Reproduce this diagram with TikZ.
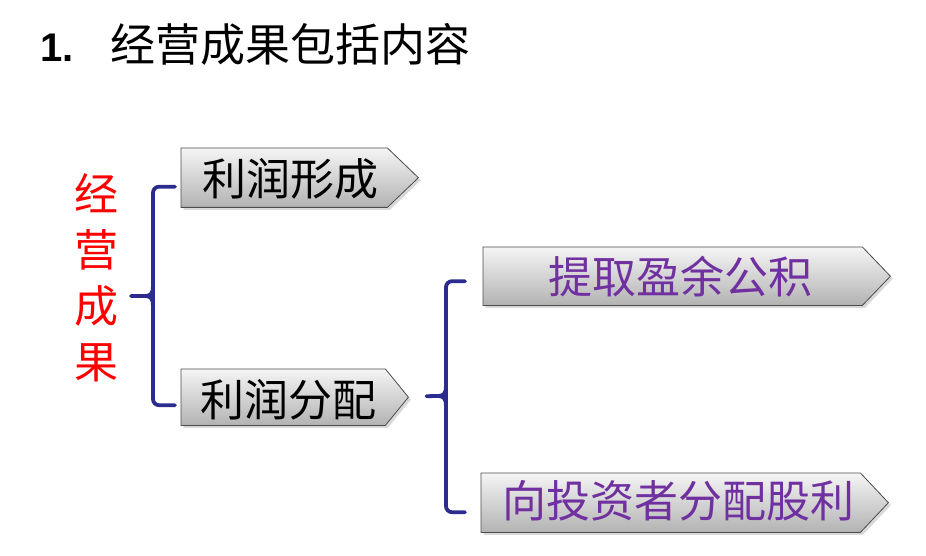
\documentclass[tikz,border=0pt]{standalone}
\usepackage{fontspec}
\setmainfont{Liberation Sans}
\newfontfamily\cjk{Noto Sans CJK SC}
\usetikzlibrary{calc,shadows}
\definecolor{bracecol}{HTML}{2B2C8E}
\definecolor{purpletxt}{HTML}{7030A0}
\tikzset{
  body/.style={draw=none, inner sep=0pt, anchor=north west},
  arrowbox/.style={draw=black!70, line width=0.8pt, line join=miter,
    top color=black!4, bottom color=black!30,
    drop shadow={opacity=0.3, shadow xshift=2.5pt, shadow yshift=-2.5pt}},
  boxtext/.style={font=\cjk\fontsize{44}{44}\selectfont, inner sep=0pt},
  brace/.style={draw=bracecol, line width=3.8pt, line cap=round, line join=round},
}
\begin{document}
\begin{tikzpicture}[x=1pt,y=-1pt]
\useasboundingbox (0,0) rectangle (926,556);

% title
\node[anchor=west, inner sep=0pt] (title) at (40,44)
  {\makebox[70pt][l]{\fontsize{40}{40}\selectfont\bfseries 1.}{\cjk\fontsize{45}{45}\selectfont 经营成果包括内容}};

% side label
\node[font=\cjk\fontsize{44}{56}\selectfont, text=red, align=center, inner sep=0pt] (side) at (96,278) {经\\营\\成\\果};

% box bodies
\node[body, minimum width=206pt, minimum height=59pt] (b1) at (181,148) {};
\node[body, minimum width=204pt, minimum height=56pt] (b2) at (181,369) {};
\node[body, minimum width=379pt, minimum height=58pt] (b3) at (483,247) {};
\node[body, minimum width=379pt, minimum height=59pt] (b4) at (481,473) {};

\coordinate (p1) at ($(b1.east)+(31,0)$);
\coordinate (p2) at ($(b2.east)+(23,0)$);
\coordinate (p3) at ($(b3.east)+(28,0)$);
\coordinate (p4) at ($(b4.east)+(28,0)$);

\path[arrowbox] (b1.north west) -- (b1.north east) -- (p1) -- (b1.south east) -- (b1.south west) -- cycle;
\path[arrowbox] (b2.north west) -- (b2.north east) -- (p2) -- (b2.south east) -- (b2.south west) -- cycle;
\path[arrowbox] (b3.north west) -- (b3.north east) -- (p3) -- (b3.south east) -- (b3.south west) -- cycle;
\path[arrowbox] (b4.north west) -- (b4.north east) -- (p4) -- (b4.south east) -- (b4.south west) -- cycle;

\node[boxtext] (t1) at ($(b1.center)+(6,1)$) {利润形成};
\node[boxtext] (t2) at ($(b2.center)+(5,3)$) {利润分配};
\node[boxtext, text=purpletxt] (t3) at ($(b3.center)+(8,0)$) {提取盈余公积};
\node[boxtext, text=purpletxt] (t4) at ($(b4.center)+(8,-2)$) {向投资者分配股利};

% brace 1
\coordinate (c1top) at ($(b1.west)+(-6,9)$);
\coordinate (c1bot) at ($(b2.west)+(-6,8)$);
\coordinate (v1) at (153,296);
\coordinate (tip1) at (131,296);
\draw[brace, rounded corners=6pt] (c1top) -| (v1) |- (c1bot);
\draw[brace] (tip1) -- ($(v1)+(-8,0)$) .. controls ($(v1)+(-2,0)$) and ($(v1)+(0,-3)$) .. ($(v1)+(0,-10)$);
\draw[brace] ($(v1)+(-8,0)$) .. controls ($(v1)+(-2,0)$) and ($(v1)+(0,3)$) .. ($(v1)+(0,10)$);

% brace 2
\coordinate (c2top) at ($(b3.west)+(-18,5)$);
\coordinate (c2bot) at ($(b4.west)+(-16,9.5)$);
\coordinate (v2) at (446,396);
\coordinate (tip2) at ($(p2)+(18,-1)$);
\draw[brace, rounded corners=6pt] (c2top) -| (v2) |- (c2bot);
\draw[brace] (tip2) -- ($(v2)+(-8,0)$) .. controls ($(v2)+(-2,0)$) and ($(v2)+(0,-3)$) .. ($(v2)+(0,-10)$);
\draw[brace] ($(v2)+(-8,0)$) .. controls ($(v2)+(-2,0)$) and ($(v2)+(0,3)$) .. ($(v2)+(0,10)$);
\end{tikzpicture}
\end{document}
